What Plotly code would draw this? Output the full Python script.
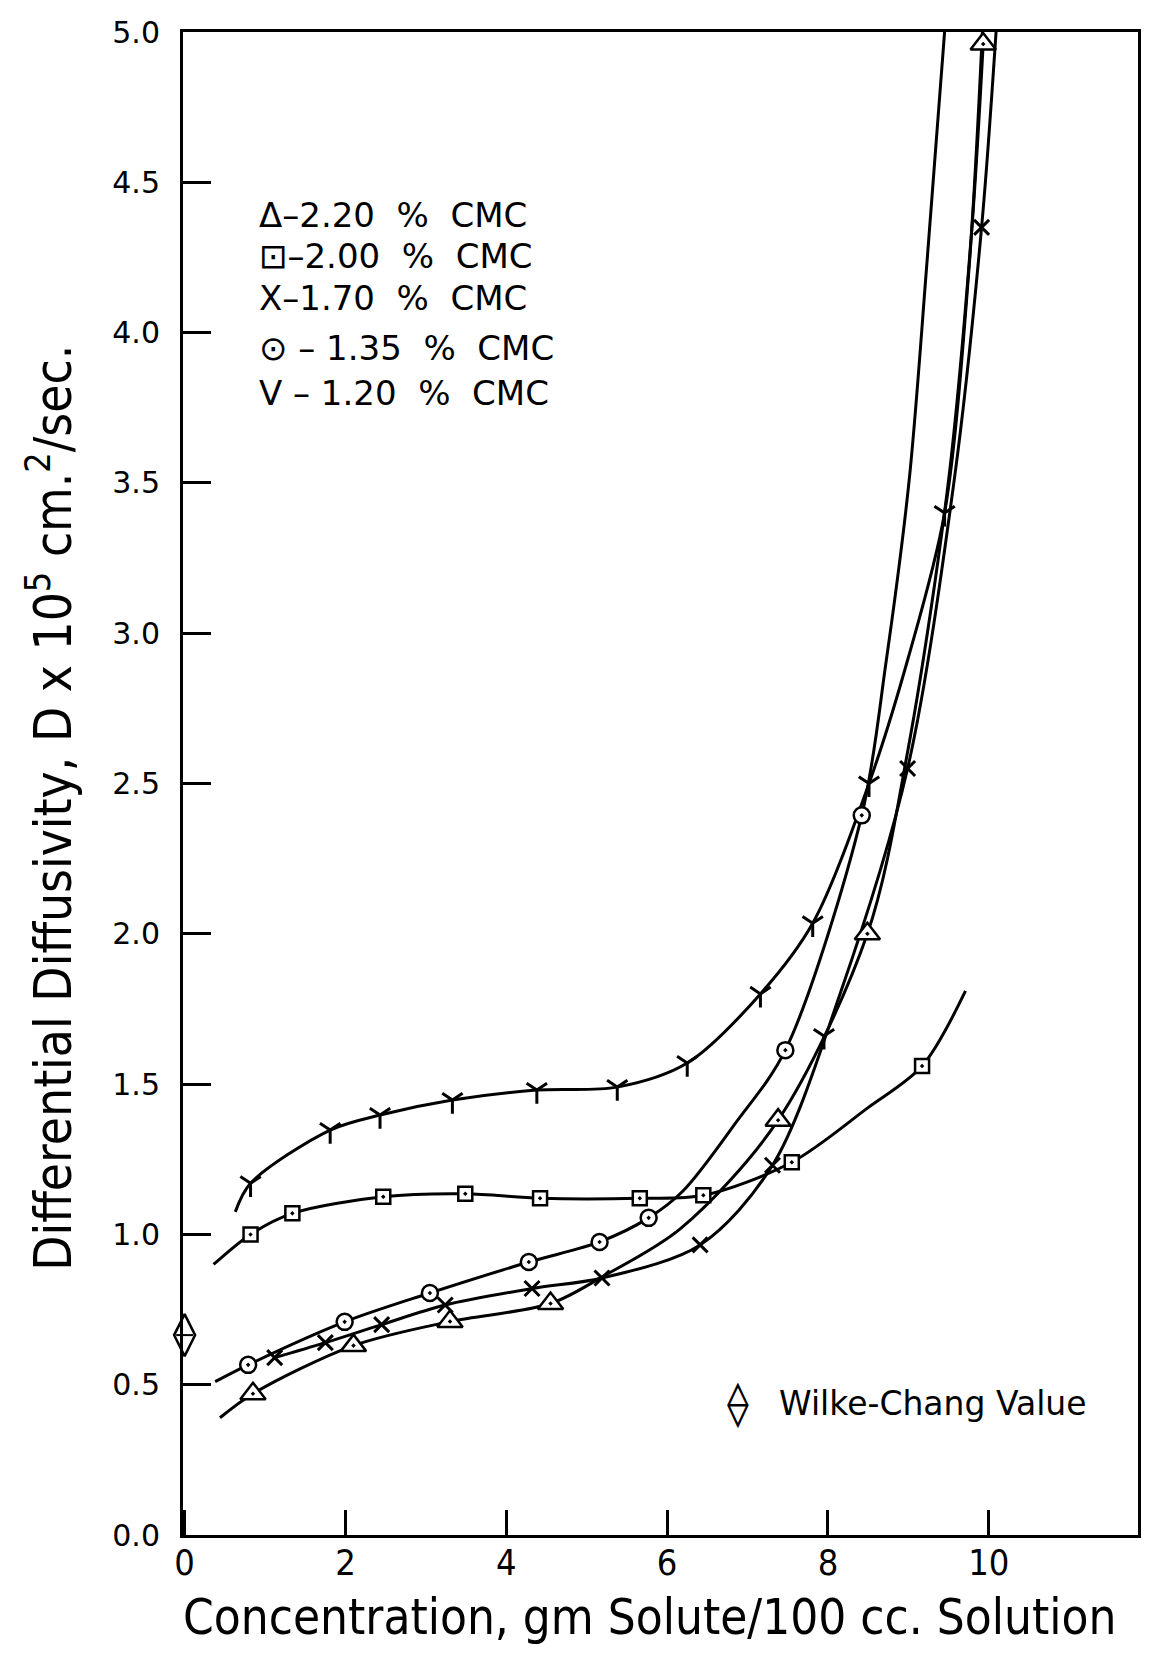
import plotly.graph_objects as go

# ---------------- data ----------------
# 2.20 % CMC (triangles)
tri_x = [0.85, 2.10, 3.30, 4.55, 7.38, 8.49, 9.93]
tri_y = [0.47, 0.63, 0.71, 0.77, 1.38, 2.00, 4.96]
tri_curve_x = [0.44, 0.85, 2.10, 3.30, 4.55, 5.20, 6.17, 7.38, 8.49, 9.00, 9.50, 9.79, 9.93]
tri_curve_y = [0.39, 0.47, 0.63, 0.71, 0.77, 0.86, 1.02, 1.38, 2.00, 2.62, 3.51, 4.35, 4.96]

# 2.00 % CMC (squares)
sq_x = [0.82, 1.34, 2.47, 3.49, 4.42, 5.66, 6.45, 7.55, 9.17]
sq_y = [1.00, 1.07, 1.125, 1.135, 1.12, 1.12, 1.13, 1.24, 1.56]
sq_curve_x = [0.36, 0.82, 1.34, 2.47, 3.49, 4.42, 5.66, 6.45, 7.55, 8.49, 9.17, 9.71]
sq_curve_y = [0.90, 1.00, 1.07, 1.125, 1.135, 1.12, 1.12, 1.13, 1.24, 1.42, 1.56, 1.81]

# 1.70 % CMC (crosses)
xs_x = [1.12, 1.75, 2.45, 3.24, 4.32, 5.19, 6.41, 7.31, 8.99, 9.91]
xs_y = [0.59, 0.64, 0.70, 0.765, 0.82, 0.855, 0.965, 1.23, 2.55, 4.35]
xs_curve_x = [1.12, 1.75, 2.45, 3.24, 4.32, 5.19, 6.41, 7.31, 8.15, 8.99, 9.57, 9.91, 10.09]
xs_curve_y = [0.59, 0.64, 0.70, 0.765, 0.82, 0.855, 0.965, 1.23, 1.80, 2.55, 3.51, 4.35, 5.00]

# 1.35 % CMC (circles)
ci_x = [0.79, 1.99, 3.05, 4.28, 5.16, 5.77, 7.47, 8.42]
ci_y = [0.566, 0.709, 0.805, 0.908, 0.975, 1.055, 1.613, 2.394]
ci_curve_x = [0.38, 0.79, 1.99, 3.05, 4.28, 5.16, 5.77, 6.20, 6.85, 7.47, 8.42, 8.72, 9.01, 9.23, 9.45]
ci_curve_y = [0.51, 0.566, 0.709, 0.805, 0.908, 0.975, 1.055, 1.145, 1.37, 1.613, 2.394, 2.90, 3.51, 4.23, 5.00]

# 1.20 % CMC (V marks)
v_x = [0.82, 1.81, 2.43, 3.33, 4.38, 5.38, 6.25, 7.16, 7.81, 8.51, 9.45]
v_y = [1.17, 1.347, 1.397, 1.447, 1.48, 1.49, 1.57, 1.80, 2.035, 2.50, 3.40]
v_curve_x = [0.63, 0.82, 1.81, 2.43, 3.33, 4.38, 5.38, 6.25, 7.16, 7.81, 8.51, 9.00, 9.45, 9.75, 9.92]
v_curve_y = [1.075, 1.17, 1.347, 1.397, 1.447, 1.48, 1.49, 1.57, 1.80, 2.035, 2.50, 2.92, 3.40, 4.20, 5.00]
v_extra_x = [7.95]
v_extra_y = [1.66]

# Wilke-Chang value
wc_x = [0.0]
wc_y = [0.665]

x_ticks = [0, 2, 4, 6, 8, 10]
x_ticktext = ["0", "2", "4", "6", "8", "10"]
y_ticks = [0.0, 0.5, 1.0, 1.5, 2.0, 2.5, 3.0, 3.5, 4.0, 4.5, 5.0]
y_ticktext = ["0.0", "0.5", "1.0", "1.5", "2.0", "2.5", "3.0", "3.5", "4.0", "4.5", "5.0"]

legend_rows = ["Δ–2.20\u00a0\u00a0%\u00a0\u00a0CMC",
               "⊡–2.00\u00a0\u00a0%\u00a0\u00a0CMC",
               "X–1.70\u00a0\u00a0%\u00a0\u00a0CMC",
               "⊙\u00a0–\u00a01.35\u00a0\u00a0%\u00a0\u00a0CMC",
               "V\u00a0–\u00a01.20\u00a0\u00a0%\u00a0\u00a0CMC"]

# ---------------- figure ----------------
BLACK = "black"
LW = 3
fig = go.Figure()

def add_curve(cx, cy):
    fig.add_trace(go.Scatter(x=cx, y=cy, mode="lines",
                             line=dict(color=BLACK, width=LW, shape="spline", smoothing=0.9),
                             hoverinfo="skip", showlegend=False))

def add_markers(mx, my, symbol, size, lw=2.5, fill="white", clip=True):
    fig.add_trace(go.Scatter(x=mx, y=my, mode="markers", cliponaxis=clip,
                             marker=dict(symbol=symbol, size=size, color=fill,
                                         line=dict(color=BLACK, width=lw)),
                             showlegend=False))

add_curve(tri_curve_x, tri_curve_y)
add_curve(sq_curve_x, sq_curve_y)
add_curve(xs_curve_x, xs_curve_y)
add_curve(ci_curve_x, ci_curve_y)
add_curve(v_curve_x, v_curve_y)

add_markers(tri_x, tri_y, "triangle-up-dot", 22, clip=False)
add_markers(sq_x, sq_y, "square-dot", 14)
add_markers(xs_x, xs_y, "x-thin", 15, lw=3, fill=BLACK)
add_markers(ci_x, ci_y, "circle-dot", 16)
add_markers(v_x, v_y, "y-down", 17, lw=3, fill=BLACK)
add_markers(v_extra_x, v_extra_y, "y-down", 17, lw=3, fill=BLACK)
add_markers(wc_x, wc_y, "diamond-tall", 30, lw=2.5, clip=False)
add_markers(wc_x, wc_y, "line-ew", 12, lw=2, fill=BLACK, clip=False)

cond = "DejaVu Sans Condensed, Liberation Sans Narrow, DejaVu Sans"
fig.update_xaxes(range=[-0.02, 11.855], tickvals=x_ticks, ticktext=x_ticktext,
                 ticks="inside", ticklen=25, tickwidth=2.5, tickcolor=BLACK,
                 showline=True, linewidth=3, linecolor=BLACK, mirror=True,
                 showgrid=False, zeroline=False, ticklabelstandoff=-6,
                 tickfont=dict(family=cond, size=36, color=BLACK))
fig.update_yaxes(range=[0, 5], tickvals=y_ticks, ticktext=y_ticktext,
                 ticks="inside", ticklen=28, tickwidth=2.5, tickcolor=BLACK,
                 showline=True, linewidth=3, linecolor=BLACK, mirror=True,
                 showgrid=False, zeroline=False, ticklabelstandoff=14,
                 tickfont=dict(family="DejaVu Sans", size=30, color=BLACK))

legend_y = [0.878, 0.851, 0.823, 0.790, 0.760]
for txt, yy in zip(legend_rows, legend_y):
    fig.add_annotation(x=0.0775, y=yy, xref="paper", yref="paper", text=txt,
                       showarrow=False, xanchor="left", yanchor="middle",
                       font=dict(family="DejaVu Sans", size=34, color=BLACK))

fig.add_annotation(x=0.581, y=0.0878, xref="paper", yref="paper", text="⟠",
                   showarrow=False, xanchor="center", yanchor="middle",
                   font=dict(family="DejaVu Sans", size=44, color=BLACK))
fig.add_annotation(x=0.622, y=0.0878, xref="paper", yref="paper", text="Wilke-Chang Value",
                   showarrow=False, xanchor="left", yanchor="middle",
                   font=dict(family="DejaVu Sans", size=33, color=BLACK))

fig.add_annotation(x=0.488, y=-0.055, xref="paper", yref="paper",
                   text="Concentration, gm Solute/100 cc. Solution",
                   showarrow=False, xanchor="center", yanchor="middle",
                   font=dict(family=cond, size=49, color=BLACK))
fig.add_annotation(x=-0.140, y=0.484, xref="paper", yref="paper", textangle=-90,
                   text="Differential Diffusivity, D x 10<sup>5</sup> cm.<sup>2</sup>/sec.",
                   showarrow=False, xanchor="center", yanchor="middle",
                   font=dict(family=cond, size=51, color=BLACK))

fig.update_layout(width=1159, height=1658, autosize=False,
                  margin=dict(l=183, r=21, t=32, b=123),
                  paper_bgcolor="white", plot_bgcolor="white")

fig.write_html("out.html")
